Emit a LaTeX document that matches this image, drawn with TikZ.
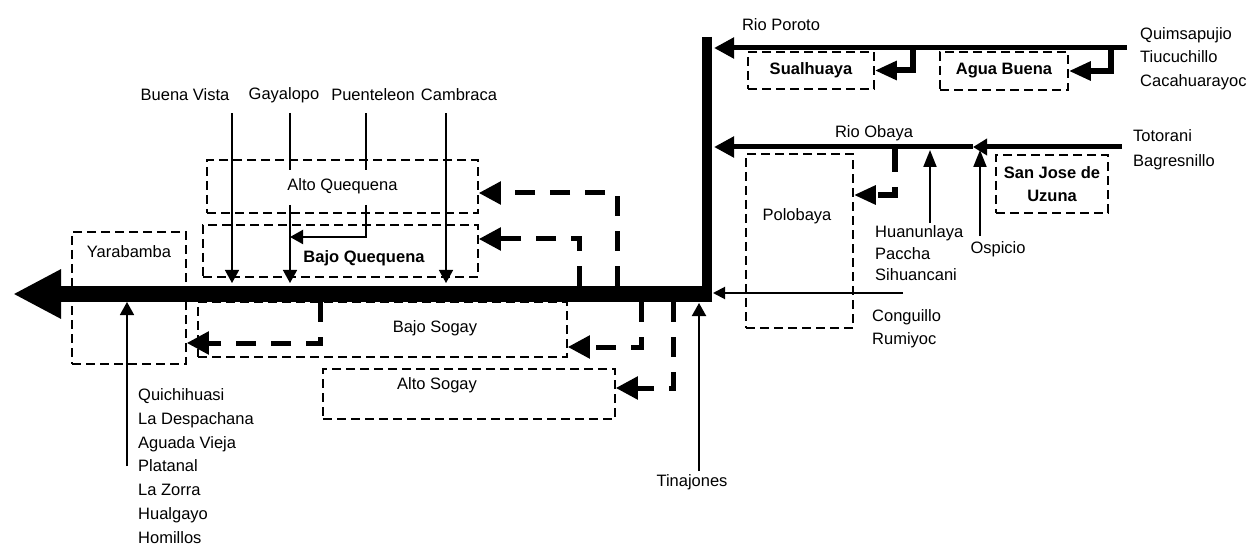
\documentclass[tikz,border=0pt]{standalone}
\usepackage{fontspec}
\setmainfont{Liberation Sans}
\usetikzlibrary{arrows.meta, positioning}

\begin{document}
\begin{tikzpicture}[
  x=1pt, y=-1pt,
  tag/.style={font=\fontsize{16.5}{23.5}\selectfont, inner sep=0pt, align=left},
  strong/.style={tag, font=\fontsize{16.5}{23}\selectfont\bfseries},
  zone/.style={draw, line width=1.5pt, dash pattern=on 9pt off 5pt, inner sep=0pt, align=center, font=\fontsize{16.5}{23}\selectfont},
  river/.style={line width=16pt, -{Triangle[length=48pt, width=46pt]}},
  trib/.style={line width=5pt, -{Triangle[length=20pt, width=20pt]}},
  branch/.style={line width=6pt, -{Triangle[length=22pt, width=18pt]}},
  canal/.style={line width=5pt, dash pattern=on 20pt off 15pt, -{Triangle[length=22pt, width=22pt]}},
  feed/.style={line width=1.5pt, -{Triangle[length=13pt, width=14pt]}}
]
\path[use as bounding box, fill=white] (0,0) rectangle (1255,545);

\node[zone, minimum width=271pt, minimum height=53pt] (altoq) at (342.5,186.5) {Alto Quequena};
\node[zone, minimum width=275pt, minimum height=52pt, label={[strong, xshift=23.5pt, yshift=-7pt]center:Bajo Quequena}] (bajoq) at (340.5,251) {};
\node[zone, minimum width=114pt, minimum height=132pt, label={[tag, yshift=46pt]center:Yarabamba}] (yara) at (129,298) {};
\node[zone, minimum width=369pt, minimum height=55pt, label={[tag, xshift=52.5pt, yshift=1.5pt]center:Bajo Sogay}] (bajos) at (382.5,329.5) {};
\node[zone, minimum width=292pt, minimum height=50pt, label={[tag, xshift=-32pt, yshift=9pt]center:Alto Sogay}] (altos) at (469,394) {};
\node[zone, minimum width=107pt, minimum height=174pt, label={[tag, xshift=-2.5pt, yshift=25pt]center:Polobaya}] (polo) at (799.5,241) {};
\node[zone, strong, minimum width=126pt, minimum height=37pt] (sual) at (811,70.5) {Sualhuaya};
\node[zone, strong, minimum width=128pt, minimum height=38pt] (agua) at (1004,71) {Agua Buena};
\node[zone, strong, align=center, minimum width=112pt, minimum height=58pt] (sjose) at (1052,184) {San Jose de\\Uzuna};

\node[tag] (bv) at (185,95) {Buena Vista};
\node[tag] (gaya) at (284,95) {Gayalopo};
\node[tag] (puen) at (373,95) {Puenteleon};
\node[tag] (camb) at (459,95) {Cambraca};
\node[tag] (poroto) at (781,25) {Rio Poroto};
\node[tag, anchor=west] (quims) at (1140,58.5) {Quimsapujio\\Tiucuchillo\\Cacahuarayoc};
\node[tag] (obaya) at (874,133) {Rio Obaya};
\node[tag, anchor=west, font=\fontsize{16.5}{25}\selectfont] (toto) at (1133,149.5) {Totorani\\Bagresnillo};
\node[tag, anchor=west, font=\fontsize{16.5}{21.5}\selectfont] (huan) at (875,253.5) {Huanunlaya\\Paccha\\Sihuancani};
\node[tag] (ospi) at (998,249) {Ospicio};
\node[tag, anchor=west, font=\fontsize{16.5}{23}\selectfont] (cong) at (872,328.5) {Conguillo\\Rumiyoc};
\node[tag, anchor=west, font=\fontsize{16.5}{23.7}\selectfont] (quich) at (138,466) {Quichihuasi\\La Despachana\\Aguada Vieja\\Platanal\\La Zorra\\Hualgayo\\Homillos};
\node[tag] (tina) at (692,482) {Tinajones};

\coordinate (src) at (707,37);
\coordinate (bend) at (707,301);
\coordinate (conf) at (712,294);
\coordinate (mouth) at (13,294);
\draw[line width=10pt] (src) -- (bend);
\draw[river] (conf) -- (mouth);

\coordinate (porsrc) at (1127,48);
\coordinate (porend) at (714,48);
\coordinate (sualtap) at (913,48);
\coordinate (aguatap) at (1111,48);
\draw[trib] (porsrc) -- (porend);
\draw[branch] (sualtap) |- (sual.east);
\draw[branch] (aguatap) |- (agua.east);

\coordinate (obsrc) at (1122,147);
\coordinate (objn) at (973,147);
\coordinate (obend) at (714,147);
\draw[trib, -{Triangle[length=14pt, width=16pt]}] (obsrc) -- (objn);
\draw[trib] (objn) -- (obend);
\coordinate (polotap) at (895,147);
\coordinate (poloturn) at (895,195);
\draw[canal, line width=6pt, dash pattern=on 25pt off 15pt, -{Triangle[length=22pt, width=18pt]}] (polotap) -- (poloturn) -- (poloturn -| polo.east);

\coordinate (huanjn) at (930,150);
\coordinate (ospijn) at (980,150);
\draw[feed, line width=2pt, shorten <=3pt, -{Triangle[length=17pt, width=13pt]}] (huan.north -| huanjn) -- (huanjn);
\draw[feed, line width=2pt, shorten <=5pt, -{Triangle[length=17pt, width=13pt]}] (ospi.north -| ospijn) -- (ospijn);

\coordinate (congsrc) at (903,293);
\coordinate (congend) at (713,293);
\draw[feed, line width=2pt, -{Triangle[length=12pt, width=12pt]}] (congsrc) -- (congend);
\coordinate (tinajn) at (699,303);
\draw[feed, line width=2pt, shorten <=3pt] (tina.north -| tinajn) -- (tinajn);
\coordinate (quichjn) at (127,302);
\draw[feed] (quichjn |- quich.west) -- (quichjn);

\coordinate (bvjn) at (232,283);
\draw[feed, shorten <=12pt] (bvjn |- bv.south) -- (bvjn);
\coordinate (gayain) at (290,170);
\coordinate (gayaout) at (290,205);
\coordinate (gayajn) at (290,283);
\draw[line width=1.5pt, shorten <=10pt] (gayain |- gaya.south) -- (gayain);
\draw[feed] (gayaout) -- (gayajn);
\coordinate (puenin) at (366,170);
\coordinate (puenout) at (366,205);
\coordinate (puenturn) at (366,237);
\draw[line width=1.5pt, shorten <=12pt] (puenin |- puen.south) -- (puenin);
\draw[feed, line width=2pt] (puenout) -- (puenturn) -- (puenturn -| gayajn);
\coordinate (cambjn) at (446,283);
\draw[feed, shorten <=12pt] (cambjn |- camb.south) -- (cambjn);

\coordinate (aqtap) at (617,286);
\coordinate (aqturn) at (617,193);
\draw[canal] (aqtap) -- (aqturn) -- (aqturn -| altoq.east);
\coordinate (bqtap) at (579,286);
\coordinate (bqturn) at (579,239);
\draw[canal] (bqtap) -- (bqturn) -- (bqturn -| bajoq.east);
\coordinate (ytap) at (320,302);
\coordinate (yturn) at (320,343);
\draw[canal] (ytap) -- (yturn) -- (yturn -| yara.east);
\coordinate (bstap) at (641,302);
\coordinate (bsturn) at (641,347);
\draw[canal] (bstap) -- (bsturn) -- (bsturn -| bajos.east);
\coordinate (astap) at (673,302);
\coordinate (asturn) at (673,388);
\draw[canal] (astap) -- (asturn) -- (asturn -| altos.east);

\end{tikzpicture}
\end{document}
